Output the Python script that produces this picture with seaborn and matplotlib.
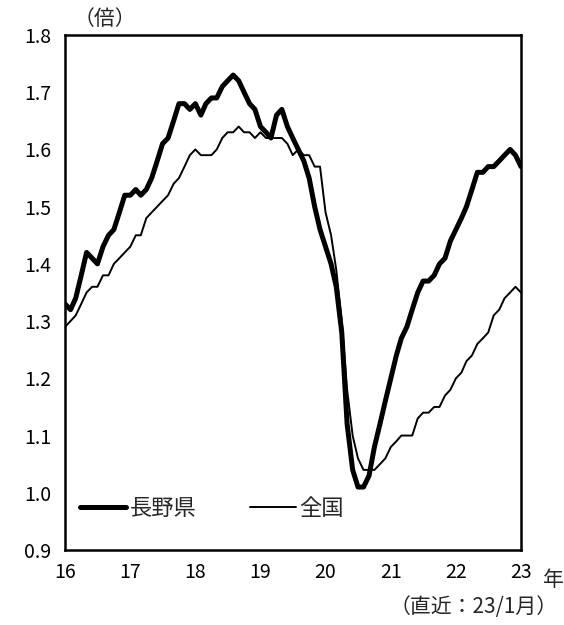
import numpy as np
import pandas as pd
import matplotlib
matplotlib.use("Agg")
import matplotlib.pyplot as plt
import seaborn as sns
from matplotlib.lines import Line2D

# Monthly data, 2016/01 - 2023/01
start_month = "2016-01-01"
n_months = 85

nagano = [
    1.33, 1.32, 1.34, 1.38, 1.42, 1.41, 1.40, 1.43, 1.45, 1.46, 1.49, 1.52,  # 2016
    1.52, 1.53, 1.52, 1.53, 1.55, 1.58, 1.61, 1.62, 1.65, 1.68, 1.68, 1.67,  # 2017
    1.68, 1.66, 1.68, 1.69, 1.69, 1.71, 1.72, 1.73, 1.72, 1.70, 1.68, 1.67,  # 2018
    1.64, 1.63, 1.62, 1.66, 1.67, 1.64, 1.62, 1.60, 1.58, 1.55, 1.50, 1.46,  # 2019
    1.43, 1.40, 1.36, 1.28, 1.12, 1.04, 1.01, 1.01, 1.03, 1.08, 1.12, 1.16,  # 2020
    1.20, 1.24, 1.27, 1.29, 1.32, 1.35, 1.37, 1.37, 1.38, 1.40, 1.41, 1.44,  # 2021
    1.46, 1.48, 1.50, 1.53, 1.56, 1.56, 1.57, 1.57, 1.58, 1.59, 1.60, 1.59,  # 2022
    1.57,                                                                    # 2023
]
zenkoku = [
    1.29, 1.30, 1.31, 1.33, 1.35, 1.36, 1.36, 1.38, 1.38, 1.40, 1.41, 1.42,  # 2016
    1.43, 1.45, 1.45, 1.48, 1.49, 1.50, 1.51, 1.52, 1.54, 1.55, 1.57, 1.59,  # 2017
    1.60, 1.59, 1.59, 1.59, 1.60, 1.62, 1.63, 1.63, 1.64, 1.63, 1.63, 1.62,  # 2018
    1.63, 1.62, 1.62, 1.62, 1.62, 1.61, 1.59, 1.60, 1.59, 1.59, 1.57, 1.57,  # 2019
    1.49, 1.45, 1.39, 1.30, 1.18, 1.10, 1.06, 1.04, 1.04, 1.04, 1.05, 1.06,  # 2020
    1.08, 1.09, 1.10, 1.10, 1.10, 1.13, 1.14, 1.14, 1.15, 1.15, 1.17, 1.18,  # 2021
    1.20, 1.21, 1.23, 1.24, 1.26, 1.27, 1.28, 1.31, 1.32, 1.34, 1.35, 1.36,  # 2022
    1.35,                                                                    # 2023
]
series_names = ["長野県", "全国"]
year_labels = ["16", "17", "18", "19", "20", "21", "22", "23"]
y_ticks = [0.9, 1.0, 1.1, 1.2, 1.3, 1.4, 1.5, 1.6, 1.7, 1.8]

dates = pd.date_range(start_month, periods=n_months, freq="MS")
df = pd.DataFrame({"date": list(dates) * 2,
                   "value": nagano + zenkoku,
                   "series": [series_names[0]] * n_months + [series_names[1]] * n_months})

sns.set_theme(style="white")
plt.rcParams["font.family"] = ["Noto Sans CJK JP", "DejaVu Sans"]

fig = plt.figure(figsize=(5.64, 6.25), dpi=100)
ax = fig.add_axes([65 / 564, 1 - 550 / 625, (521 - 65) / 564, (550 - 35) / 625])

sns.lineplot(data=df, x="date", y="value", hue="series", size="series",
             sizes={series_names[0]: 3.6, series_names[1]: 1.4},
             palette={series_names[0]: "black", series_names[1]: "black"},
             ax=ax, legend=False)

ax.set_xlim(pd.Timestamp("2016-01-01"), pd.Timestamp("2023-01-01"))
ax.set_ylim(0.9, 1.8)
year_ticks = pd.to_datetime([f"20{y}-01-01" for y in year_labels])
ax.set_xticks(year_ticks)
ax.set_xticklabels(year_labels)
ax.set_yticks(y_ticks)
ax.set_yticklabels([f"{v:.1f}" for v in y_ticks])
ax.set_xlabel("")
ax.set_ylabel("")

for sp in ax.spines.values():
    sp.set_visible(True)
    sp.set_color("black")
    sp.set_linewidth(1.8)

ax.tick_params(axis="x", direction="in", length=6, width=1.8, labelsize=14, pad=9, colors="black")
ax.tick_params(axis="y", direction="out", length=5, width=1.8, labelsize=14, pad=5, colors="black")

handles = [Line2D([], [], color="black", lw=3.6), Line2D([], [], color="black", lw=1.4)]
ax.legend(handles, series_names, loc="lower left", bbox_to_anchor=(-0.012, 0.02),
          ncol=2, frameon=False, fontsize=16, handlelength=2.1, handletextpad=0.15,
          columnspacing=2.4)

fig.text(74 / 564, 1 - 19 / 625, "（倍）", fontsize=15, ha="left", va="center")
fig.text(553 / 564, 1 - 580 / 625, "年", fontsize=15, ha="center", va="center")
fig.text(558 / 564, 1 - 607 / 625, "（直近：23/1月）", fontsize=15, ha="right", va="center")

fig.savefig("out.png", dpi=100)
